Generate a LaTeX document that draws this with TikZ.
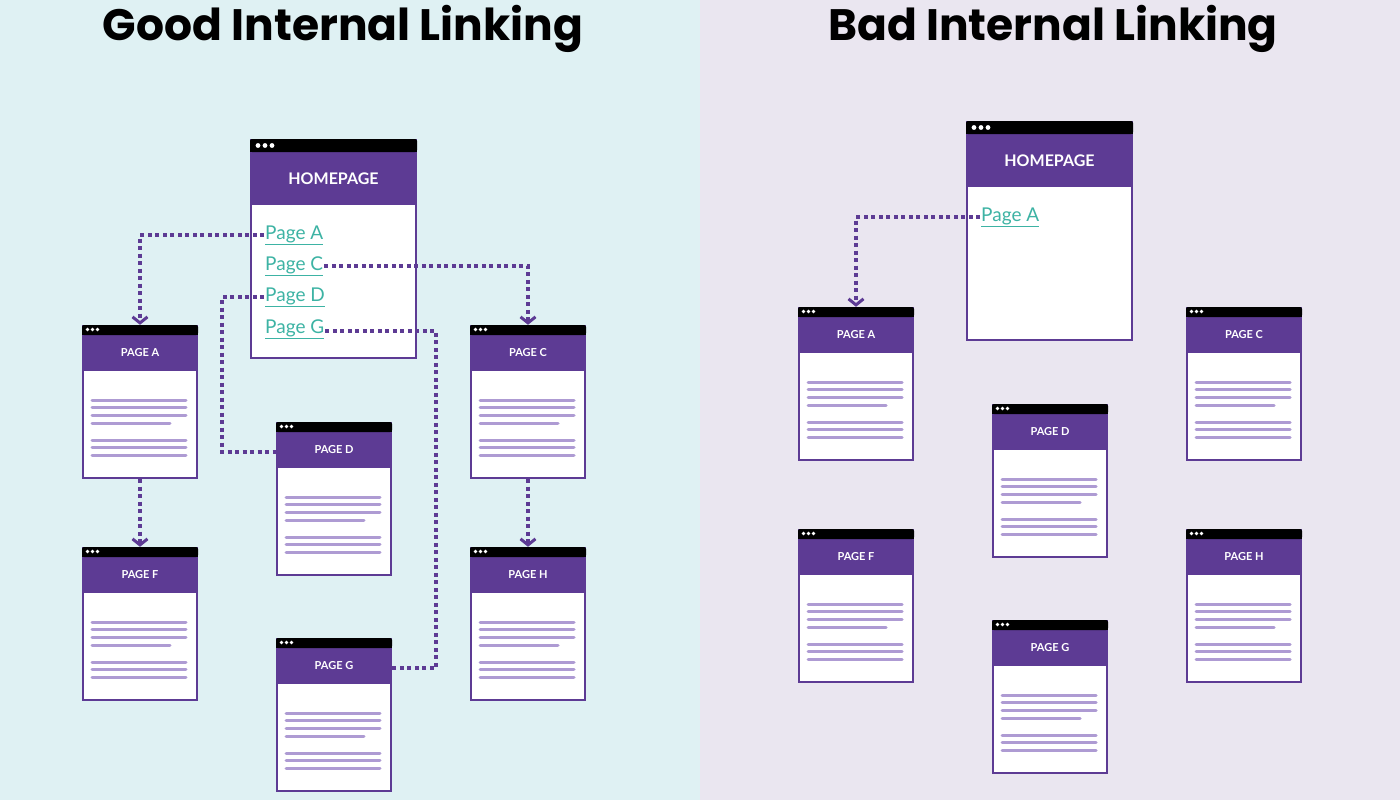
\documentclass[tikz,border=0pt]{standalone}
\usepackage{fontspec}
\setmainfont{Lato}
\newfontfamily\titlefont{Poppins}
\usetikzlibrary{arrows.meta}
\definecolor{pp}{HTML}{5D3B94}
\definecolor{lp}{HTML}{AE9BD3}
\definecolor{tl}{HTML}{3DB3A4}
\definecolor{bgL}{HTML}{DFF1F3}
\definecolor{bgR}{HTML}{EAE6F0}
\tikzset{
 pagebox/.style={minimum width=116pt,minimum height=154pt,inner sep=0pt,draw=none},
 hbox/.style={minimum width=167pt,minimum height=220pt,inner sep=0pt,draw=none},
 plabel/.style={text=white,font=\bfseries\fontsize{11}{11}\selectfont},
 hlabel/.style={text=white,font=\bfseries\fontsize{16}{16}\selectfont},
 txt/.style={lp,line width=3pt,line cap=round},
 link/.style={text=tl,font=\fontsize{19}{19}\selectfont,anchor=west,inner sep=1pt},
 dline/.style={pp,line width=4pt,dash pattern=on 4pt off 3.5pt},
 arr/.style={-{Straight Barb[length=6pt,width=15pt,line width=3pt]}},
}
\newcommand\pg[4]{%
 \node[pagebox] (#1) at (#2+58,#3+77) {};
 \coordinate (#1-hw) at (#2,#3+30);
 \coordinate (#1-he) at (#2+116,#3+30);
 \draw[pp,line width=2pt,fill=white] (#2+1,#3+1) rectangle (#2+115,#3+153);
 \fill[pp] (#2,#3+9) rectangle (#2+116,#3+46);
 \fill[black,rounded corners=2pt] (#2,#3) rectangle (#2+116,#3+10);
 \fill[black] (#2,#3+5) rectangle (#2+116,#3+10);
 \foreach \i in {0,1,2}{\fill[white] (#2+5.5+\i*5,#3+4.5) circle (1.9pt);}
 \node[plabel] (#1-l) at (#2+58,#3+28) {#4};
 \foreach \d in {75,82,90}{\draw[txt] (#2+10,#3+\d) -- (#2+104,#3+\d);}
 \draw[txt] (#2+10,#3+98) -- (#2+88,#3+98);
 \foreach \d in {115,122,130}{\draw[txt] (#2+10,#3+\d) -- (#2+104,#3+\d);}
}
\newcommand\hp[3]{%
 \node[hbox] (#1) at (#2+83.5,#3+110) {};
 \draw[pp,line width=2pt,fill=white] (#2+1,#3+1) rectangle (#2+166,#3+219);
 \fill[pp] (#2,#3+11) rectangle (#2+167,#3+66);
 \fill[black,rounded corners=2pt] (#2,#3) rectangle (#2+167,#3+13);
 \fill[black] (#2,#3+6) rectangle (#2+167,#3+13);
 \foreach \i in {0,1,2}{\fill[white] (#2+8+\i*7,#3+6.5) circle (2.4pt);}
 \node[hlabel] at (#2+83.5,#3+40) {HOMEPAGE};
}
\newcommand\lk[1]{\underline{#1}}
\begin{document}
\begin{tikzpicture}[x=1pt,y=-1pt]
\useasboundingbox (0,0) rectangle (1400,800);
\fill[bgL] (0,0) rectangle (700,800);
\fill[bgR] (700,0) rectangle (1400,800);
\node[font=\titlefont\bfseries\fontsize{44}{44}\selectfont] (t1) at (343,29) {Good Internal Linking};
\node[font=\titlefont\bfseries\fontsize{44}{44}\selectfont] (t2) at (1053,29) {Bad Internal Linking};
% good
\hp{gH}{250}{139}
\node[link] (lA) at (264,235) {\lk{Page A}};
\node[link] (lC) at (264,266) {\lk{Page C}};
\node[link] (lD) at (264,297) {\lk{Page D}};
\node[link] (lG) at (264,329) {\lk{Page G}};
\pg{pA}{82}{325}{PAGE A}
\pg{pC}{470}{325}{PAGE C}
\pg{pD}{276}{422}{PAGE D}
\pg{pF}{82}{547}{PAGE F}
\pg{pH}{470}{547}{PAGE H}
\pg{pG}{276}{638}{PAGE G}
\coordinate (kD) at (222,297);
\coordinate (kG) at (436,331);
\draw[dline,arr] (lA.west) -| (pA.north);
\draw[dline,arr] (lC.east) -| (pC.north);
\draw[dline] (lD.west) -- (kD) |- (pD-hw);
\draw[dline] (lG.east |- kG) -- (kG) |- (pG-he);
\draw[dline,arr] (pA.south) -- (pF.north);
\draw[dline,arr] (pC.south) -- (pH.north);
% bad
\hp{bH}{966}{121}
\node[link] (bA) at (980,217) {\lk{Page A}};
\pg{bpA}{798}{307}{PAGE A}
\pg{bpC}{1186}{307}{PAGE C}
\pg{bpD}{992}{404}{PAGE D}
\pg{bpF}{798}{529}{PAGE F}
\pg{bpH}{1186}{529}{PAGE H}
\pg{bpG}{992}{620}{PAGE G}
\draw[dline,arr] (bA.west) -| (bpA.north);
\end{tikzpicture}
\end{document}
